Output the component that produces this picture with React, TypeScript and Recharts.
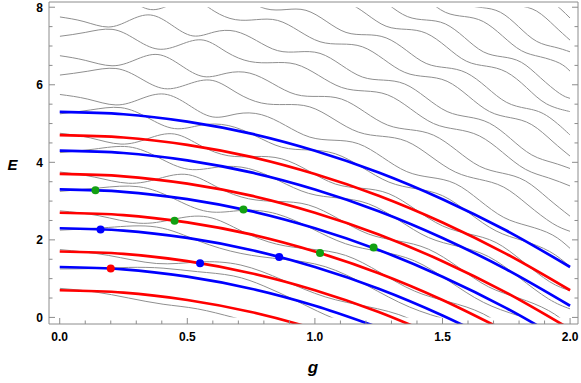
import { ComposedChart, Line, XAxis, YAxis } from "recharts";

// ── thick model curves (read at g = 0, 0.25, … 2) ────────────────────────────

const G_KNOTS = [0, 0.25, 0.5, 0.75, 1.0, 1.25, 1.5, 1.75, 2.0];

const RED_LEVELS = [
  [0.7, 0.64, 0.45, 0.14, -0.3, -0.86],
  [1.7, 1.64, 1.45, 1.14, 0.7, 0.14, -0.55],
  [2.7, 2.64, 2.45, 2.14, 1.7, 1.14, 0.45, -0.36],
  [3.7, 3.64, 3.45, 3.14, 2.7, 2.14, 1.45, 0.64, -0.3],
  [4.7, 4.64, 4.45, 4.14, 3.7, 3.14, 2.45, 1.64, 0.7],
];

const BLUE_LEVELS = [
  [1.3, 1.24, 1.05, 0.74, 0.3, -0.26],
  [2.3, 2.24, 2.05, 1.74, 1.3, 0.74, 0.05, -0.76],
  [3.3, 3.24, 3.05, 2.74, 2.3, 1.74, 1.05, 0.24, -0.7],
  [4.3, 4.24, 4.05, 3.74, 3.3, 2.74, 2.05, 1.24, 0.3],
  [5.3, 5.24, 5.05, 4.74, 4.3, 3.74, 3.05, 2.24, 1.3],
];

// ── marked points ────────────────────────────────────────────────────────────

const RED_DOTS = [{ g: 0.2, E: 1.26 }];
const BLUE_DOTS = [
  { g: 0.16, E: 2.27 },
  { g: 0.55, E: 1.4 },
  { g: 0.86, E: 1.56 },
];
const GREEN_DOTS = [
  { g: 0.14, E: 3.28 },
  { g: 0.45, E: 2.49 },
  { g: 0.72, E: 2.78 },
  { g: 1.02, E: 1.66 },
  { g: 1.23, E: 1.8 },
];

// ── thin gray levels, one pair per block (upper / lower branch) ──────────────

const G1 = [0, 0.135, 0.27, 0.405, 0.54, 0.68, 0.8, 0.92, 1.04, 1.15];
const U1 = [1.25, 1.26, 1.29, 1.27, 1.18, 1.07, 0.81, 0.45, 0.07, -0.22];
const L1 = [0.75, 0.66, 0.5, 0.34, 0.22, 0.0, -0.2, -0.4, -0.6, -0.8];

const G2 = [0, 0.19, 0.38, 0.545, 0.71, 0.875, 1.04, 1.205, 1.37, 1.535];
const U2 = [2.25, 2.32, 2.33, 1.97, 1.65, 1.5, 1.31, 0.82, 0.27, -0.09];
const L2 = [1.75, 1.6, 1.39, 1.43, 1.35, 0.96, 0.53, 0.28, -0.03, -0.63];

const G3 = [0, 0.155, 0.31, 0.445, 0.58, 0.715, 0.85, 0.985, 1.12, 1.255, 1.39, 1.525, 1.66, 1.795];
const U3 = [3.25, 3.34, 3.37, 3.07, 2.73, 2.76, 2.67, 2.3, 1.9, 1.7, 1.46, 0.94, 0.39, 0.05];
const L3 = [2.75, 2.62, 2.43, 2.53, 2.59, 2.22, 1.89, 1.76, 1.6, 1.16, 0.68, 0.4, 0.09, -0.49];

const G4 = [0, 0.135, 0.27, 0.388, 0.505, 0.623, 0.74, 0.858, 0.975, 1.093, 1.21, 1.328, 1.445, 1.563, 1.68, 1.798, 1.915, 2.0];
const U4 = [4.25, 4.34, 4.4, 4.12, 3.82, 3.88, 3.84, 3.53, 3.2, 3.08, 2.93, 2.51, 2.06, 1.83, 1.57, 1.04, 0.48, 0.22];
const L4 = [3.75, 3.62, 3.46, 3.58, 3.68, 3.34, 3.06, 2.99, 2.9, 2.54, 2.15, 1.97, 1.76, 1.29, 0.79, 0.5, 0.18, -0.22];

const G5 = [0, 0.12, 0.24, 0.345, 0.45, 0.555, 0.66, 0.765, 0.87, 0.975, 1.08, 1.185, 1.29, 1.395, 1.5, 1.605, 1.71, 1.815, 1.92, 2.0];
const U5 = [5.25, 5.35, 5.41, 5.15, 4.87, 4.96, 4.95, 4.69, 4.39, 4.32, 4.22, 3.87, 3.49, 3.32, 3.14, 2.69, 2.23, 1.98, 1.7, 1.31];
const L5 = [4.75, 4.63, 4.47, 4.61, 4.73, 4.42, 4.17, 4.15, 4.09, 3.78, 3.44, 3.33, 3.19, 2.78, 2.36, 2.15, 1.93, 1.44, 0.92, 0.69];

const G6 = [0, 0.11, 0.22, 0.315, 0.41, 0.505, 0.6, 0.695, 0.79, 0.885, 0.98, 1.075, 1.17, 1.265, 1.36, 1.455, 1.55, 1.645, 1.74, 1.835, 1.93, 2.0];
const U6 = [6.25, 6.35, 6.42, 6.17, 5.9, 6.02, 6.11, 5.79, 5.53, 5.49, 5.43, 5.11, 4.78, 4.67, 4.54, 4.15, 3.75, 3.56, 3.36, 2.9, 2.43, 2.22];
const L6 = [5.75, 5.63, 5.48, 5.63, 5.76, 5.48, 5.17, 5.25, 5.23, 4.95, 4.65, 4.57, 4.48, 4.13, 3.76, 3.61, 3.45, 3.02, 2.58, 2.36, 2.13, 1.78];

const G7 = [0, 0.1, 0.205, 0.295, 0.385, 0.475, 0.565, 0.655, 0.745, 0.835, 0.925, 1.015, 1.105, 1.195, 1.285, 1.375, 1.465, 1.555, 1.645, 1.735, 1.825, 1.915, 2.0];
const U7 = [7.25, 7.35, 7.43, 7.18, 6.92, 7.04, 7.15, 6.84, 6.6, 6.57, 6.53, 6.24, 5.93, 5.84, 5.74, 5.38, 5.0, 4.85, 4.68, 4.26, 3.82, 3.6, 3.39];
const L7 = [6.75, 6.63, 6.49, 6.64, 6.78, 6.5, 6.21, 6.3, 6.3, 6.03, 5.75, 5.7, 5.63, 5.3, 4.96, 4.84, 4.7, 4.31, 3.9, 3.72, 3.52, 3.06, 2.61];

const G8 = [0, 0.095, 0.19, 0.273, 0.356, 0.439, 0.522, 0.605, 0.688, 0.771, 0.854, 0.937, 1.02, 1.103, 1.186, 1.269, 1.352, 1.435, 1.518, 1.601, 1.684, 1.767, 1.85, 1.933, 2.0];
const U8 = [8.25, 8.35, 8.43, 8.2, 7.94, 8.08, 8.2, 7.9, 7.68, 7.68, 7.66, 7.39, 7.11, 7.05, 6.98, 6.66, 6.32, 6.21, 6.09, 5.71, 5.31, 5.15, 4.97, 4.53, 4.16];
const L8 = [7.75, 7.63, 7.49, 7.66, 7.8, 7.54, 7.26, 7.36, 7.38, 7.14, 6.88, 6.85, 6.81, 6.51, 6.2, 6.12, 6.02, 5.67, 5.31, 5.17, 5.01, 4.61, 4.19, 3.99, 3.84];

const G9 = [0.573, 0.651, 0.73, 0.808, 0.887, 0.965, 1.044, 1.122, 1.201, 1.279, 1.358, 1.436, 1.515, 1.593, 1.672, 1.75, 1.829, 1.907, 1.986, 2.0];
const U9 = [8.94, 8.73, 8.74, 8.74, 8.48, 8.22, 8.18, 8.13, 7.83, 7.51, 7.43, 7.33, 6.98, 6.61, 6.48, 6.33, 5.93, 5.51, 5.33, 5.3];
const L9 = [8.4, 8.43, 8.2, 7.96, 7.94, 7.92, 7.64, 7.35, 7.29, 7.21, 6.89, 6.55, 6.44, 6.31, 5.94, 5.55, 5.39, 5.21, 4.79, 4.7];

const G10 = [1.064, 1.139, 1.213, 1.288, 1.362, 1.437, 1.511, 1.586, 1.66, 1.735, 1.809, 1.884, 1.958, 2.0];
const U10 = [9.26, 8.97, 8.68, 8.61, 8.54, 8.21, 7.87, 7.76, 7.63, 7.26, 6.88, 6.72, 6.56, 6.35];
const L10 = [8.48, 8.43, 8.38, 8.07, 7.76, 7.67, 7.57, 7.22, 6.85, 6.72, 6.58, 6.18, 5.78, 5.65];

const G11 = [1.443, 1.514, 1.585, 1.656, 1.727, 1.798, 1.869, 1.94, 2.0];
const U11 = [9.07, 8.98, 8.88, 8.53, 8.17, 8.04, 7.9, 7.51, 7.15];
const L11 = [8.77, 8.44, 8.1, 7.99, 7.87, 7.5, 7.12, 6.97, 6.85];

const G12 = [1.792, 1.86, 1.928, 2.0];
const L12 = [8.4, 8.27, 8.13, 7.72];

const GRAY_LINES: [number[], number[]][] = [
  [G1, U1], [G1, L1], [G2, U2], [G2, L2], [G3, U3], [G3, L3],
  [G4, U4], [G4, L4], [G5, U5], [G5, L5], [G6, U6], [G6, L6],
  [G7, U7], [G7, L7], [G8, U8], [G8, L8], [G9, U9], [G9, L9],
  [G10, U10], [G10, L10], [G11, U11], [G11, L11], [G12, L12],
];

// ── axes ─────────────────────────────────────────────────────────────────────

const X_TICKS = [0, 0.1, 0.2, 0.3, 0.4, 0.5, 0.6, 0.7, 0.8, 0.9, 1.0, 1.1, 1.2, 1.3, 1.4, 1.5, 1.6, 1.7, 1.8, 1.9, 2.0];
const Y_TICKS = [0, 0.5, 1, 1.5, 2, 2.5, 3, 3.5, 4, 4.5, 5, 5.5, 6, 6.5, 7, 7.5, 8];
const X_LABELS = [0, 0.5, 1, 1.5, 2];
const Y_LABELS = [0, 2, 4, 6, 8];

const X_DOMAIN = [-0.042, 2.031];
const Y_DOMAIN = [-0.17, 8.135];

const FRAME = "#8c8c8c";
const FONT = "'Liberation Sans', Arial, sans-serif";
const RED = "#ff0000";
const BLUE = "#0000ff";
const GREEN = "#12a012";
const GRAY = "#8f8f8f";

const toPoints = (vals: number[]) => vals.map((E, i) => ({ g: G_KNOTS[i], E }));
const zipPoints = (gs: number[], es: number[]) => gs.map((g, i) => ({ g, E: es[i] }));
const isLabel = (v: number, list: number[]) => list.some((l) => Math.abs(l - v) < 1e-6);

function BottomTick({ x, y, payload }: any) {
  const v = payload.value as number;
  const major = isLabel(v, X_LABELS);
  return (
    <g>
      <line x1={x} x2={x} y1={y} y2={y - (major ? 6 : 3.5)} stroke={FRAME} />
      {major && (
        <text x={x} y={y + 16.7} textAnchor="middle" fontFamily={FONT} fontWeight="bold" fontSize={12} fill="#000">
          {v.toFixed(1)}
        </text>
      )}
    </g>
  );
}

function TopTick({ x, y, payload }: any) {
  const major = isLabel(payload.value, X_LABELS);
  return <line x1={x} x2={x} y1={y} y2={y + (major ? 6 : 3.5)} stroke={FRAME} />;
}

function LeftTick({ x, y, payload }: any) {
  const v = payload.value as number;
  const major = isLabel(v, Y_LABELS);
  return (
    <g>
      <line x1={x} x2={x + (major ? 6 : 3.5)} y1={y} y2={y} stroke={FRAME} />
      {major && (
        <text x={x - 6} y={y + 4.3} textAnchor="end" fontFamily={FONT} fontWeight="bold" fontSize={12} fill="#000">
          {v}
        </text>
      )}
    </g>
  );
}

function RightTick({ x, y, payload }: any) {
  const major = isLabel(payload.value, Y_LABELS);
  return <line x1={x} x2={x - (major ? 6 : 3.5)} y1={y} y2={y} stroke={FRAME} />;
}

const layer = { position: "absolute" as const, left: 0, top: 0 };

export default function App() {
  return (
    <div style={{ position: "absolute", left: 0, top: 0, width: 581, height: 383, background: "#fff" }}>
      {/* gray levels live in [0,2] x [0,8] and are clipped there */}
      <div style={layer}>
        <ComposedChart width={581} height={383} margin={{ top: 7.23, right: 10.91, bottom: 65.59, left: 59.72 }}>
          <XAxis type="number" dataKey="g" domain={[0, 2]} allowDataOverflow hide />
          <YAxis type="number" domain={[0, 8]} allowDataOverflow hide width={0} />
          {GRAY_LINES.map(([gs, es], i) => (
            <Line key={`gr${i}`} data={zipPoints(gs, es)} dataKey="E" type="natural" stroke={GRAY}
              strokeWidth={1} dot={false} isAnimationActive={false} />
          ))}
        </ComposedChart>
      </div>

      <div style={layer}>
        <ComposedChart width={581} height={383} margin={{ top: 1, right: 2, bottom: 58, left: 48 }}>
          <XAxis
            xAxisId={0} type="number" dataKey="g" domain={X_DOMAIN} allowDataOverflow
            ticks={X_TICKS} interval={0} height={1} tickSize={0} tickMargin={0}
            tickLine={false} tick={<BottomTick />} axisLine={{ stroke: FRAME }}
          />
          <XAxis
            xAxisId="top" orientation="top" type="number" domain={X_DOMAIN} allowDataOverflow
            ticks={X_TICKS} interval={0} height={1} tickSize={0} tickMargin={0}
            tickLine={false} tick={<TopTick />} axisLine={{ stroke: FRAME }}
          />
          <YAxis
            yAxisId={0} type="number" domain={Y_DOMAIN} allowDataOverflow
            ticks={Y_TICKS} interval={0} width={1} tickSize={0} tickMargin={0}
            tickLine={false} tick={<LeftTick />} axisLine={{ stroke: FRAME }}
          />
          <YAxis
            yAxisId="right" orientation="right" type="number" domain={Y_DOMAIN} allowDataOverflow
            ticks={Y_TICKS} interval={0} width={1} tickSize={0} tickMargin={0}
            tickLine={false} tick={<RightTick />} axisLine={{ stroke: FRAME }}
          />

          {RED_LEVELS.map((vals, i) => (
            <Line key={`r${i}`} data={toPoints(vals)} dataKey="E" type="monotone" stroke={RED}
              strokeWidth={2.7} dot={false} isAnimationActive={false} />
          ))}
          {BLUE_LEVELS.map((vals, i) => (
            <Line key={`b${i}`} data={toPoints(vals)} dataKey="E" type="monotone" stroke={BLUE}
              strokeWidth={2.7} dot={false} isAnimationActive={false} />
          ))}

          <Line data={RED_DOTS} dataKey="E" stroke="none" isAnimationActive={false}
            dot={{ r: 4, fill: RED, stroke: "none" }} />
          <Line data={BLUE_DOTS} dataKey="E" stroke="none" isAnimationActive={false}
            dot={{ r: 4, fill: BLUE, stroke: "none" }} />
          <Line data={GREEN_DOTS} dataKey="E" stroke="none" isAnimationActive={false}
            dot={{ r: 4, fill: GREEN, stroke: "none" }} />
        </ComposedChart>
      </div>

      <svg width={581} height={383} style={{ ...layer, pointerEvents: "none" }}>
        <text x={12.5} y={170} textAnchor="middle" fontFamily={FONT} fontWeight="bold" fontStyle="italic" fontSize={15}>
          E
        </text>
        <text x={313} y={372.5} textAnchor="middle" fontFamily={FONT} fontWeight="bold" fontStyle="italic" fontSize={17}>
          g
        </text>
      </svg>
    </div>
  );
}
